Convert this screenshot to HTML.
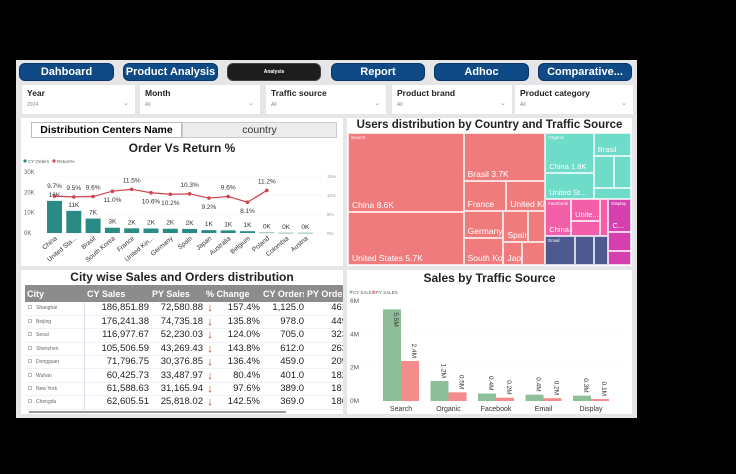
<!DOCTYPE html>
<html><head><meta charset="utf-8">
<style>
*{box-sizing:border-box;margin:0;padding:0}
body{width:736px;height:474px;background:#000;font-family:"Liberation Sans",sans-serif;position:relative;overflow:hidden}
.abs{position:absolute}
#dash{left:16px;top:60px;width:621px;height:358px;background:#e6e6e9}
.nav{top:63px;height:18px;border-radius:6px;background:#0f4a86;color:#fff;font-weight:bold;font-size:11px;text-align:center;line-height:17px;border:1px solid #0a3566;white-space:nowrap;overflow:hidden}
.flt{top:85px;height:29px;background:#fff}
.flt b{position:absolute;left:5px;top:3px;font-size:8.5px;color:#222}
.flt i{position:absolute;left:5px;top:17px;font-size:5px;color:#888;font-style:normal}
.flt u{position:absolute;right:6px;top:14px;font-size:7px;color:#999;text-decoration:none}
.panel{background:#fff}
.ttl{font-weight:bold;color:#222;text-align:center;position:absolute;left:0;right:0;white-space:nowrap}
table{border-collapse:collapse;font-size:9.5px;color:#222}
td{padding:0;white-space:nowrap;overflow:hidden;line-height:12px}
</style></head><body>
<div class="abs" id="dash"></div>
<div class="abs nav" style="left:19px;width:95px">Dahboard</div>
<div class="abs nav" style="left:123px;width:95px">Product Analysis</div>
<div class="abs nav" style="left:227px;width:94px;background:#1d1d1d;border-color:#444;font-size:5px">Analysis</div>
<div class="abs nav" style="left:331px;width:94px">Report</div>
<div class="abs nav" style="left:434px;width:95px">Adhoc</div>
<div class="abs nav" style="left:538px;width:94px">Comparative...</div>

<div class="abs flt" style="left:22px;width:113px"><b>Year</b><i>2024</i><u>&#8964;</u></div>
<div class="abs flt" style="left:140px;width:120px"><b>Month</b><i>All</i><u>&#8964;</u></div>
<div class="abs flt" style="left:266px;width:120px"><b>Traffic source</b><i>All</i><u>&#8964;</u></div>
<div class="abs flt" style="left:392px;width:120px"><b>Product brand</b><i>All</i><u>&#8964;</u></div>
<div class="abs flt" style="left:515px;width:118px"><b>Product category</b><i>All</i><u>&#8964;</u></div>

<div class="abs panel" style="left:21px;top:118px;width:322px;height:148px">
 <div class="abs" style="left:10px;top:4px;width:151px;height:16px;border:1px solid #bbb;font-weight:bold;font-size:10.5px;text-align:center;line-height:14px;background:#fff">Distribution Centers Name</div>
 <div class="abs" style="left:161px;top:4px;width:155px;height:16px;border:1px solid #ccc;background:#ececec;font-size:10.5px;text-align:center;line-height:14px;color:#333">country</div>
 <div class="ttl" style="top:23px;font-size:12px">Order Vs Return %</div>
</div>
<svg class="abs" style="left:0;top:0" width="736" height="474" id="c1"></svg>

<div class="abs panel" style="left:347px;top:118px;width:285px;height:148px">
 <div class="ttl" style="top:1px;font-size:11.5px">Users distribution by Country and Traffic Source</div>
</div>
<div class="abs" id="tm" style="left:348px;top:133px;width:283px;height:132px;overflow:hidden"></div>

<div class="abs panel" style="left:21px;top:270px;width:322px;height:144px">
 <div class="ttl" style="top:0;font-size:12px">City wise Sales and Orders distribution</div>
 <div class="abs" style="left:4px;top:15px;width:318px;height:126px;overflow:hidden">
 <table id="tbl" style="width:330px;table-layout:fixed">
  <colgroup><col style="width:59px"><col style="width:65px"><col style="width:54px"><col style="width:14px"><col style="width:43px"><col style="width:44px"><col style="width:51px"></colgroup>
  <tr style="background:#8c8c8c;color:#fff;font-weight:bold;height:17px;font-size:9px">
   <td style="padding-left:2px">City</td><td style="padding-left:3px">CY Sales</td><td style="padding-left:3px">PY Sales</td><td colspan="2" style="padding-left:3px">% Change</td><td style="padding-left:3px">CY Orders</td><td style="padding-left:3px">PY Orders</td></tr>
 </table></div>
 <div class="abs" style="left:8px;top:141px;width:257px;height:2px;background:#999"></div>
</div>

<div class="abs panel" style="left:347px;top:270px;width:285px;height:144px">
 <div class="ttl" style="top:1px;font-size:12px">Sales by Traffic Source</div>
</div>
<svg class="abs" style="left:0;top:0" width="736" height="474" id="c2"></svg>

<script>
const NS="http://www.w3.org/2000/svg";
function mk(p,t,a,txt){const e=document.createElementNS(NS,t);for(const k in a)e.setAttribute(k,a[k]);if(txt!==undefined)e.textContent=txt;p.appendChild(e);return e;}

const countries=["China","United Sta...","Brasil","South Korea","France","United Kin...","Germany","Spain","Japan","Australia","Belgium","Poland","Colombia","Austria"];
const orders=[15.8,10.9,7.1,2.6,2.3,2.2,2.1,2.0,1.4,1.3,0.9,0.2,0.1,0.1];
const orderLabels=["16K","11K","7K","3K","2K","2K","2K","2K","1K","1K","1K","0K","0K","0K"];
const returnPct=[9.7,9.5,9.6,11.0,11.5,10.6,10.2,10.3,9.2,9.6,8.1,11.2,null,null];
const leftTicks=[0,10,20,30];
const rightTicks=[0,5,10,15];

(function(){
const s=document.getElementById('c1');
const y0=233,y1=172,x0=54.5,step=19.3,bw=15;
const yL=v=>y0-(v/30)*(y0-y1);
const yR=v=>y0-(v/15)*(y0-176);
const xC=i=>x0+i*step;
const lg=mk(s,'g',{});

mk(lg,'circle',{cx:25,cy:161,r:1.6,fill:'#2a8a84'});mk(lg,'text',{x:28,y:163,'font-size':4.5,fill:'#555'},'CY Orders');
mk(lg,'circle',{cx:54,cy:161,r:1.6,fill:'#d04550'});mk(lg,'text',{x:57,y:163,'font-size':4.5,fill:'#555'},'Return%');
leftTicks.forEach(t=>{const e=mk(s,'text',{x:24,y:yL(t)+2,'font-size':6,fill:'#666'},t+'K');
 });
rightTicks.forEach(t=>{const e=mk(s,'text',{x:327,y:yR(t)+2,'font-size':4.5,fill:'#999'},t+'%');
 
 mk(s,'line',{x1:44,x2:322,y1:yR(t),y2:yR(t),stroke:'#f0f0f0','stroke-width':0.5});});
orders.forEach((v,i)=>{
 const r=mk(s,'rect',{x:xC(i)-bw/2,y:yL(v),width:bw,height:Math.max(0.5,y0-yL(v)),fill:'#2a8a84'});
 
 mk(s,'text',{x:xC(i),y:yL(v)-4,'font-size':6.5,fill:'#333','text-anchor':'middle'},orderLabels[i]);
 const l=mk(s,'text',{x:xC(i)+3,y:y0+6,'font-size':6.5,fill:'#333','text-anchor':'end',transform:`rotate(-40 ${xC(i)+3} ${y0+6})`},countries[i]);
 
});
let d='';returnPct.forEach((v,i)=>{if(v!==null)d+=(d?'L':'M')+xC(i)+' '+yR(v);});
const pl=mk(s,'path',{d:d,fill:'none',stroke:'#d04550','stroke-width':1.2});

returnPct.forEach((v,i)=>{if(v===null)return;
 const c=mk(s,'circle',{cx:xC(i),cy:yR(v),r:1.8,fill:'#d04550'});
 
 const up=[1,2,4,7,9,11].includes(i);
 mk(s,'text',{x:xC(i),y:up?yR(v)-7:yR(v)+(i===0?-8:11),'font-size':6.5,fill:'#333','text-anchor':'middle'},v.toFixed(1)+'%');
});
})();

const groups=["Search","Organic","Facebook","Email","Display"];
const groupColors=["#f07b7d","#6fdcc9","#f35ea9","#4e5a8f","#d640ae"];
const groupCountries=[
 ["China","United States","Brasil","France","United Kin...","Germany","South Korea","Spain","Australia","Japan","Other"],
 ["China","United St...","Brasil","Other1","Other2","Other3"],
 ["China...","Unite...","Other1","Other2"],
 ["Other0","Other1","Other2"],
 ["C...","Other1","Other2"]];
const groupValues=[
 [8.6,5.7,3.7,1.2,1.1,1.0,1.0,0.7,0.5,0.4,0.5],
 [1.8,1.2,0.8,0.6,0.5,0.4],
 [0.9,0.6,0.4,0.3],
 [0.8,0.5,0.4],
 [0.7,0.4,0.3]];

(function(){
const host=document.getElementById('tm');
function worst(row,w){const s=row.reduce((a,b)=>a+b.a,0);let mx=0,mn=1e9;row.forEach(r=>{mx=Math.max(mx,r.a);mn=Math.min(mn,r.a);});return Math.max(w*w*mx/(s*s),s*s/(w*w*mn));}
function squarify(items,x,y,w,h){
 const out=[];let rest=items.slice();
 while(rest.length){
  const side=Math.min(w,h);let row=[rest[0]];let i=1;
  while(i<rest.length&&worst(row.concat([rest[i]]),side)<=worst(row,side)){row.push(rest[i]);i++;}
  rest=rest.slice(i);
  const s=row.reduce((a,b)=>a+b.a,0);
  if(w>=h){const cw=s/h;let cy=y;row.forEach(r=>{const rh=r.a/cw;out.push({...r,x:x,y:cy,w:cw,h:rh});cy+=rh;});x+=cw;w-=cw;}
  else{const rh=s/w;let cx=x;row.forEach(r=>{const rw=r.a/rh;out.push({...r,x:cx,y:y,w:rw,h:rh});cx+=rw;});y+=rh;h-=rh;}
 }
 return out;}
const W=283,H=132;
const tot=groupValues.map(a=>a.reduce((p,q)=>p+q,0));
const all=tot.reduce((a,b)=>a+b,0);
// top-level: Search column, right column: Organic on top, then [Facebook/Email stacked | Display]
const G=[];
const sw=W*tot[0]/all;G[0]={x:0,y:0,w:sw,h:H};
const rw=W-sw,rest=all-tot[0];
const oh=H*tot[1]/rest;G[1]={x:sw,y:0,w:rw,h:oh};
const bh=H-oh,brest=tot[2]+tot[3]+tot[4];
const dw=rw*tot[4]/brest;const fw=rw-dw;
const fh=bh*tot[2]/(tot[2]+tot[3]);
G[2]={x:sw,y:oh,w:fw,h:fh};G[3]={x:sw,y:oh+fh,w:fw,h:bh-fh};G[4]={x:sw+fw,y:oh,w:dw,h:bh};
function cell(gi,j,c){
  const d=document.createElement('div');
  
  
  d.style.cssText=`position:absolute;left:${c.x}px;top:${c.y}px;width:${c.w}px;height:${c.h}px;background:${groupColors[gi]};border:0.5px solid rgba(255,255,255,.75);overflow:hidden;color:#fff;font-size:${gi===0?8.5:7.5}px;white-space:nowrap`;
  const name=groupCountries[gi][j];
  if(c.w>18&&c.h>10&&!name.startsWith('Other')){const t=document.createElement('span');t.style.cssText='position:absolute;left:3px;bottom:1px';
   t.textContent=name+(gi===0&&c.w>60?' '+groupValues[gi][j]+'K':(gi===1&&j===0?' '+groupValues[gi][j]+'K':''));d.appendChild(t);}
  host.appendChild(d);
}
G.forEach((g,gi)=>{
 const vals=groupValues[gi],sum=tot[gi];
 if(gi===0){
  const cwid=g.w*(vals[0]+vals[1])/sum;
  const ch=g.h*vals[0]/(vals[0]+vals[1]);
  cell(0,0,{x:g.x,y:g.y,w:cwid,h:ch});cell(0,1,{x:g.x,y:g.y+ch,w:cwid,h:g.h-ch});
  const r=vals.slice(2),rs=r.reduce((a,b)=>a+b,0);
  const kids=r.map((v,k)=>({j:k+2,a:v/rs*(g.w-cwid)*g.h}));
  squarify(kids,g.x+cwid,g.y,g.w-cwid,g.h).forEach(c=>cell(0,c.j,c));
 } else {
  const kids=vals.map((v,j)=>({j:j,a:v/sum*g.w*g.h}));
  squarify(kids,g.x,g.y,g.w,g.h).forEach(c=>cell(gi,c.j,c));
 }
 const lb=document.createElement('div');
 
 
 lb.style.cssText=`position:absolute;left:${g.x+3}px;top:${g.y+2}px;font-size:4.5px;color:#fff`;
 lb.textContent=groups[gi];host.appendChild(lb);
});
})();

const cities=["Shanghai","Beijing","Seoul","Shenzhen","Dongguan","Wuhan","New York","Chengdu"];
const cySales=["186,851.89","176,241.38","116,977.67","105,506.59","71,796.75","60,425.73","61,588.63","62,605.51"];
const pySales=["72,580.88","74,735.18","52,230.03","43,269.43","30,376.85","33,487.97","31,165.94","25,818.02"];
const pctChange=["157.4%","135.8%","124.0%","143.8%","136.4%","80.4%","97.6%","142.5%"];
const cyOrders=["1,125.0","978.0","705.0","612.0","459.0","401.0","389.0","369.0"];
const pyOrders=["461.0","449.0","323.0","263.0","209.0","182.0","181.0","186.0"];
(function(){
const t=document.getElementById('tbl');
cities.forEach((c,i)=>{
 const tr=document.createElement('tr');
 
 
 tr.style.cssText='height:13.4px;border-bottom:1px solid #eef2f6';
 tr.innerHTML=`<td style="font-size:5px;color:#666;padding-left:3px;border-right:1px solid #d8e2ea"><span style="display:inline-block;width:4px;height:4px;border:0.5px solid #bbb;margin-right:4px"></span>${c}</td><td style="text-align:right">${cySales[i]}</td><td style="text-align:right">${pySales[i]}</td><td style="color:#c0392b;text-align:center;font-weight:bold;font-size:11px">&#8595;</td><td style="text-align:right">${pctChange[i]}</td><td style="text-align:right">${cyOrders[i]}</td><td style="text-align:right">${pyOrders[i]}</td>`;
 t.appendChild(tr);
});
})();

const sources=["Search","Organic","Facebook","Email","Display"];
const cyVals=[5.5,1.2,0.45,0.38,0.32];
const pyVals=[2.4,0.52,0.2,0.17,0.12];
const cyLabels=["5.5M","1.2M","0.4M","0.4M","0.3M"];
const pyLabels=["2.4M","0.5M","0.2M","0.2M","0.1M"];
const c2Ticks=[0,2,4,6];
(function(){
const s=document.getElementById('c2');
const y0=401,yt=301,bw=18;
const y=v=>y0-(v/6)*(y0-yt);
const xC=i=>401+i*47.5;
mk(s,'circle',{cx:351,cy:292,r:1.5,fill:'#8fbf9a'});mk(s,'text',{x:353,y:294,'font-size':4.5,fill:'#555'},'CY SALES');
mk(s,'circle',{cx:374,cy:292,r:1.5,fill:'#f58c8c'});mk(s,'text',{x:376,y:294,'font-size':4.5,fill:'#555'},'PY SALES');
c2Ticks.forEach(t=>{const e=mk(s,'text',{x:350,y:y(t)+2,'font-size':6.5,fill:'#555'},t+'M');
 
 mk(s,'line',{x1:362,x2:625,y1:y(t),y2:y(t),stroke:'#f2f2f2','stroke-width':0.5,'stroke-dasharray':'2 2'});});
sources.forEach((src,i)=>{
 const a=mk(s,'rect',{x:xC(i)-bw,y:y(cyVals[i]),width:bw,height:y0-y(cyVals[i]),fill:'#8fbf9a'});
 
 const b=mk(s,'rect',{x:xC(i),y:y(pyVals[i]),width:bw,height:y0-y(pyVals[i]),fill:'#f58c8c'});
 
 let lx=xC(i)-bw/2+2,ly=i===0?y(cyVals[i])+3:y(cyVals[i])-3;
 mk(s,'text',{x:lx,y:ly,'font-size':6.5,fill:'#333','text-anchor':i===0?'start':'end',transform:`rotate(90 ${lx} ${ly})`},cyLabels[i]);
 let px=xC(i)+bw/2+2,py=y(pyVals[i])-3;
 mk(s,'text',{x:px,y:py,'font-size':6.5,fill:'#333','text-anchor':'end',transform:`rotate(90 ${px} ${py})`},pyLabels[i]);
 const l=mk(s,'text',{x:xC(i),y:411,'font-size':7,fill:'#333','text-anchor':'middle'},src);
 
});
})();
</script>
</body></html>
